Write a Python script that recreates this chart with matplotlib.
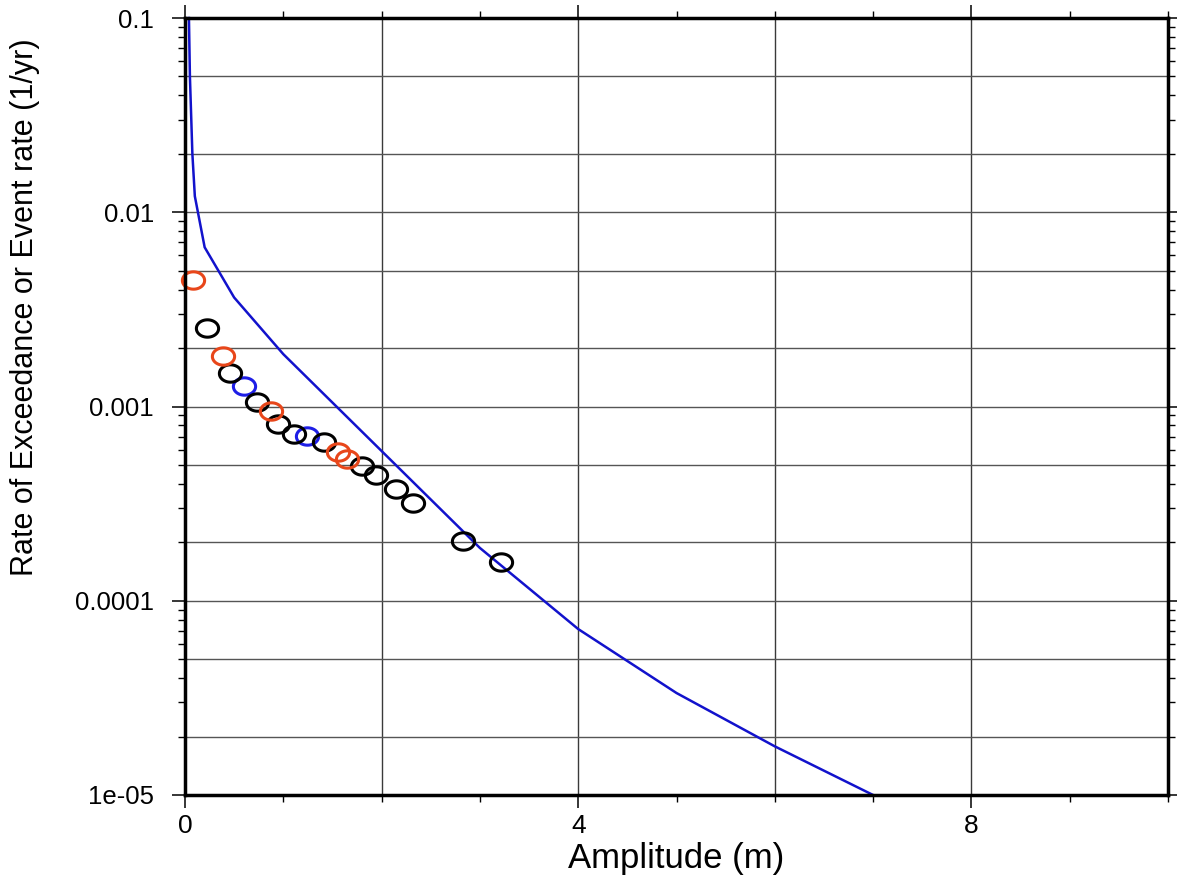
import numpy as np
import matplotlib
matplotlib.use("Agg")
import matplotlib.pyplot as plt
from matplotlib.path import Path
from matplotlib.ticker import LogLocator, MultipleLocator, NullFormatter

# ---- data ----
line_x = [0.04, 0.05, 0.075, 0.1, 0.2, 0.5, 1.0, 2.0, 3.0, 4.0, 5.0, 6.0, 7.0]
line_y = [0.1, 0.05, 0.02, 0.0121, 0.0066, 0.00364, 0.00186, 0.00059,
          0.000187, 7.15e-5, 3.35e-5, 1.78e-5, 1.0e-5]

blue_x = [0.60, 1.245]
blue_y = [0.00128, 0.000702]

black_x = [0.22, 0.46, 0.736, 0.943, 1.11, 1.414, 1.80, 1.94, 2.146, 2.317, 2.83, 3.21]
black_y = [0.00254, 0.00148, 0.00105, 0.000811, 0.000720, 0.000657, 0.000494,
           0.000443, 0.000375, 0.000317, 0.000203, 0.000158]

orange_x = [0.078, 0.39, 0.87, 1.56, 1.645]
orange_y = [0.00449, 0.00181, 0.000953, 0.000580, 0.000537]

ytick_vals = [1e-5, 1e-4, 1e-3, 1e-2, 1e-1]
ytick_labels = ["1e-05", "0.0001", "0.001", "0.01", "0.1"]
xtick_vals = [0, 4, 8]
xtick_labels = ["0", "4", "8"]

plt.rcParams['font.family'] = ['Liberation Sans', 'DejaVu Sans']

fig = plt.figure(figsize=(11.77, 8.76), dpi=100)
ax = fig.add_axes([185/1177, 1-795/876, 983/1177, 777/876])

ax.set_xlim(0, 10)
ax.set_yscale('log')
ax.set_ylim(1e-5, 0.1)

# gridlines
for gx in np.arange(2, 10, 2):
    ax.axvline(gx, color='#3a3a3a', lw=1.0, zorder=1)
for d in ytick_vals[:-1]:
    for m in (1, 2, 5):
        if m * d > 1e-5:
            ax.axhline(m * d, color='#555555', lw=1.0, zorder=1)

# elliptical open-circle marker (reference is horizontally stretched)
t = np.linspace(0, 2*np.pi, 73)
ell = Path(np.column_stack([1.28*np.cos(t), np.sin(t)]), closed=True)

mk = dict(marker=ell, linestyle='none', markersize=16, markerfacecolor='none',
          markeredgewidth=2.2, clip_on=False)

ax.plot(line_x, line_y, color='#1212CC', lw=1.8, zorder=3, clip_on=False)
ax.plot(blue_x, blue_y, markeredgecolor='#1E1EE6', zorder=4, **mk)
ax.plot(black_x, black_y, markeredgecolor='black', zorder=5, **mk)
ax.plot(orange_x, orange_y, markeredgecolor='#E8461A', zorder=6, **mk)

# ticks
ax.set_xticks(xtick_vals)
ax.set_xticklabels(xtick_labels)
ax.xaxis.set_minor_locator(MultipleLocator(1))
ax.set_yticks(ytick_vals)
ax.set_yticklabels(ytick_labels)
ax.yaxis.set_minor_locator(LogLocator(base=10, subs=np.arange(2, 10)))
ax.yaxis.set_minor_formatter(NullFormatter())

ax.tick_params(which='both', direction='out', top=True, right=True,
               labeltop=False, labelright=False, color='black')
ax.tick_params(which='major', length=9.4, width=1.1)
ax.tick_params(which='minor', length=5, width=1.0)
ax.tick_params(axis='x', which='major', labelsize=19, pad=4)
ax.tick_params(axis='y', which='major', labelsize=18.5, pad=13)

for s in ax.spines.values():
    s.set_linewidth(2.5)
    s.set_zorder(7)

ax.set_xlabel("Amplitude (m)", fontsize=25, labelpad=3)
ax.set_ylabel("Rate of Exceedance or Event rate (1/yr)", fontsize=22)
ax.yaxis.set_label_coords(-0.148, 0.628)

fig.savefig("out.png", dpi=100)
